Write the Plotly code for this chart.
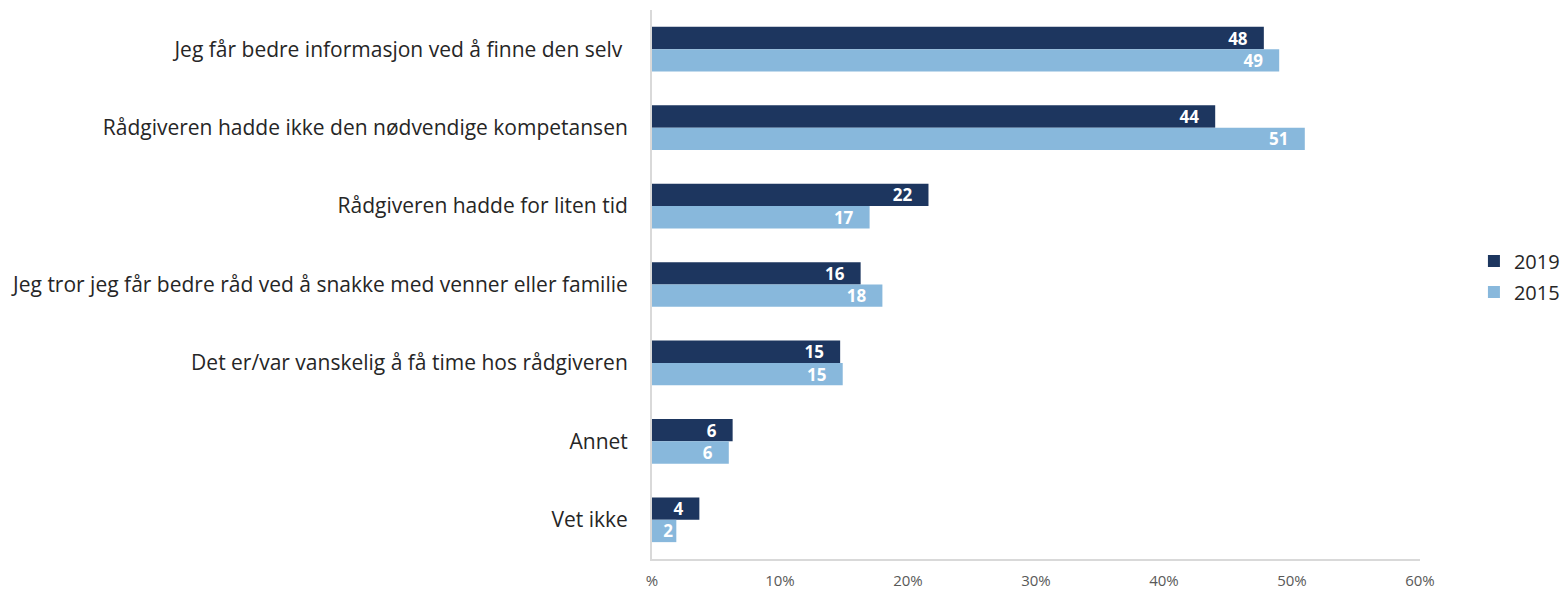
import plotly.graph_objects as go

categories = [
    "Jeg får bedre informasjon ved å finne den selv ",
    "Rådgiveren hadde ikke den nødvendige kompetansen",
    "Rådgiveren hadde for liten tid",
    "Jeg tror jeg får bedre råd ved å snakke med venner eller familie",
    "Det er/var vanskelig å få time hos rådgiveren",
    "Annet",
    "Vet ikke",
]
values_2019 = [47.8, 44.0, 21.6, 16.3, 14.7, 6.3, 3.7]
values_2015 = [49.0, 51.0, 17.0, 18.0, 14.9, 6.0, 1.9]
tick_vals = [0, 10, 20, 30, 40, 50, 60]
tick_text = ["%", "10%", "20%", "30%", "40%", "50%", "60%"]

colors = {"2019": "#1d365f", "2015": "#88b8dc"}
pad = "\u00a0\u00a0\u00a0"  # keeps the labels off the bar ends, like the original

fig = go.Figure()
for name, vals in [("2019", values_2019), ("2015", values_2015)]:
    fig.add_trace(go.Bar(
        y=categories,
        x=vals,
        name=name,
        orientation="h",
        marker=dict(color=colors[name], line=dict(width=0)),
        text=[f"{v:.0f}" + (pad if v > 3 else "") for v in vals],
        textposition="inside",
        insidetextanchor="end",
        constraintext="none",
        textangle=0,
        textfont=dict(family="Open Sans", size=17, color="white", weight="bold"),
        legendgroup=name,
    ))

# page has an 8px body margin, so the figure is sized to fit the window
fig.update_layout(
    barmode="group",
    bargap=0.43,
    bargroupgap=0,
    width=1560,
    height=582,
    margin=dict(l=644, r=148, t=2, b=31, autoexpand=False),
    plot_bgcolor="white",
    paper_bgcolor="white",
    font=dict(family="Open Sans", color="#262626"),
    legend=dict(
        xref="container", yref="container",
        x=0.9397, y=0.5387, xanchor="left", yanchor="middle",
        font=dict(size=20, color="#262626"),
        tracegroupgap=2,
        itemwidth=30,
    ),
)
fig.update_xaxes(
    range=[0, 60],
    tickvals=tick_vals,
    ticktext=tick_text,
    showgrid=False,
    zeroline=False,
    showline=True,
    linecolor="#d9d9d9",
    linewidth=2,
    tickfont=dict(size=15, color="#595959"),
    ticks="",
    ticklabelstandoff=7,
)
fig.update_yaxes(
    autorange="reversed",
    showgrid=False,
    showline=True,
    linecolor="#d9d9d9",
    linewidth=2,
    tickfont=dict(size=21, color="#262626"),
    ticks="",
    ticklabelstandoff=18,
)

fig.write_html("out.html")
